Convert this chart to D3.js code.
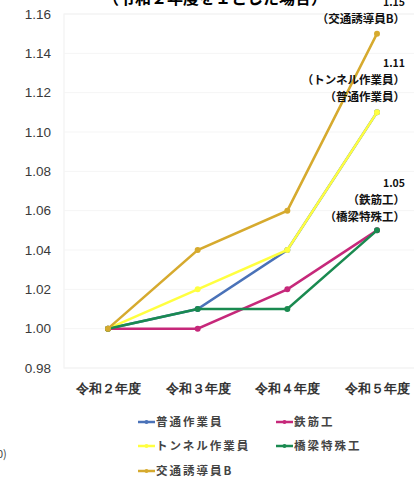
<!DOCTYPE html>
<html>
<head>
<meta charset="utf-8">
<script src="https://cdn.jsdelivr.net/npm/d3@7"></script>
<style>
  body { margin: 0; background: #fff; }
  svg { font-family: "Noto Sans CJK JP", "Noto Sans", sans-serif; }
</style>
</head>
<body>
<svg id="chart" width="414" height="486"></svg>
<script>
var years = ["令和２年度", "令和３年度", "令和４年度", "令和５年度"];
var seriesNames = ["普通作業員", "鉄筋工", "トンネル作業員", "橋梁特殊工", "交通誘導員B"];
var futsu = [1.00, 1.01, 1.04, 1.11];
var tekkin = [1.00, 1.00, 1.02, 1.05];
var tunnel = [1.00, 1.02, 1.04, 1.11];
var kyoryo = [1.00, 1.01, 1.01, 1.05];
var kotsu = [1.00, 1.04, 1.06, 1.15];
var colors = ["#4a72b8", "#c6287a", "#ffff40", "#1a8a50", "#d6aa2e"];
var yTicks = [0.98, 1.00, 1.02, 1.04, 1.06, 1.08, 1.10, 1.12, 1.14, 1.16];

var allValues = [futsu, tekkin, tunnel, kyoryo, kotsu];
var series = seriesNames.map((n, i) => ({name: n, values: allValues[i], color: colors[i]}));

var svg = d3.select("#chart");
var x = d3.scalePoint().domain(years).range([108, 377]);
var y = d3.scaleLinear().domain([0.98, 1.16]).range([368, 14]);

// title, cut off at the top like in the source image
svg.append("text")
   .attr("x", 215).attr("y", 4)
   .attr("text-anchor", "middle")
   .attr("font-size", 16).attr("font-weight", "bold")
   .text("（令和２年度を１とした場合）");

// plot frame and faint grid
svg.append("rect")
   .attr("x", 64).attr("y", 14).attr("width", 360).attr("height", 354)
   .attr("fill", "none").attr("stroke", "#f0f0f0");
svg.selectAll("line.grid").data(yTicks)
   .enter().append("line")
   .attr("class", "grid")
   .attr("x1", 64).attr("x2", 414)
   .attr("y1", d => y(d)).attr("y2", d => y(d))
   .attr("stroke", "#f5f5f5");

var yAxis = svg.append("g")
   .attr("transform", "translate(51,0)")
   .call(d3.axisLeft(y).tickValues(yTicks).tickFormat(d3.format(".2f")).tickSize(0).tickPadding(0));
yAxis.select(".domain").remove();
yAxis.selectAll("text").attr("font-size", 13.5).attr("fill", "#3a3a3a")
     .attr("font-family", "Liberation Sans, sans-serif");

var xAxis = svg.append("g")
   .attr("transform", "translate(0,378)")
   .call(d3.axisBottom(x).tickSize(0).tickPadding(6));
xAxis.select(".domain").remove();
xAxis.selectAll("text").attr("font-size", 13).attr("font-weight", "bold").attr("fill", "#333");

var line = d3.line().x((d, i) => x(years[i])).y(d => y(d));

var g = svg.selectAll("g.series").data(series)
   .enter().append("g").attr("class", "series");
g.append("path")
   .attr("d", d => line(d.values))
   .attr("fill", "none")
   .attr("stroke", d => d.color)
   .attr("stroke-width", 2.5);
g.selectAll("circle").data(d => d.values.map(v => ({v: v, color: d.color})))
   .enter().append("circle")
   .attr("cx", (d, i) => x(years[i]))
   .attr("cy", d => y(d.v))
   .attr("r", 3)
   .attr("fill", d => d.color);

// end labels
var notes = [
  {v: 1.15, lines: ["1.15", "（交通誘導員B）"], dy: -28},
  {v: 1.11, lines: ["1.11", "（トンネル作業員）", "（普通作業員）"], dy: -45},
  {v: 1.05, lines: ["1.05", "（鉄筋工）", "（橋梁特殊工）"], dy: -43}
];
notes.forEach(n => {
  var t = svg.append("text")
     .attr("text-anchor", "end")
     .attr("font-size", 11.5).attr("font-weight", "bold").attr("fill", "#111");
  n.lines.forEach((s, i) => {
    t.append("tspan")
     .attr("x", 405)
     .attr("y", y(n.v) + n.dy + i * 17)
     .attr("font-size", i == 0 ? 10.5 : 11.5)
     .text(s);
  });
});

// legend
var legendPos = [[138, 422], [276, 422], [138, 446], [276, 446], [138, 471]];
var lg = svg.selectAll("g.legend").data(series)
   .enter().append("g").attr("class", "legend")
   .attr("transform", (d, i) => "translate(" + legendPos[i][0] + "," + legendPos[i][1] + ")");
lg.append("line").attr("x1", 0).attr("x2", 17)
  .attr("stroke", d => d.color).attr("stroke-width", 2.5);
lg.append("circle").attr("cx", 8.5).attr("r", 2).attr("fill", d => d.color);
lg.append("text").attr("x", 18).attr("dy", "0.35em")
  .attr("font-size", 11.5).attr("font-weight", "bold").attr("fill", "#444")
  .attr("letter-spacing", 2)
  .text(d => d.name);

// fragment at left edge
svg.append("text").attr("x", -3).attr("y", 458)
   .attr("font-size", 11).attr("fill", "#444").text("0)");
</script>
</body>
</html>
